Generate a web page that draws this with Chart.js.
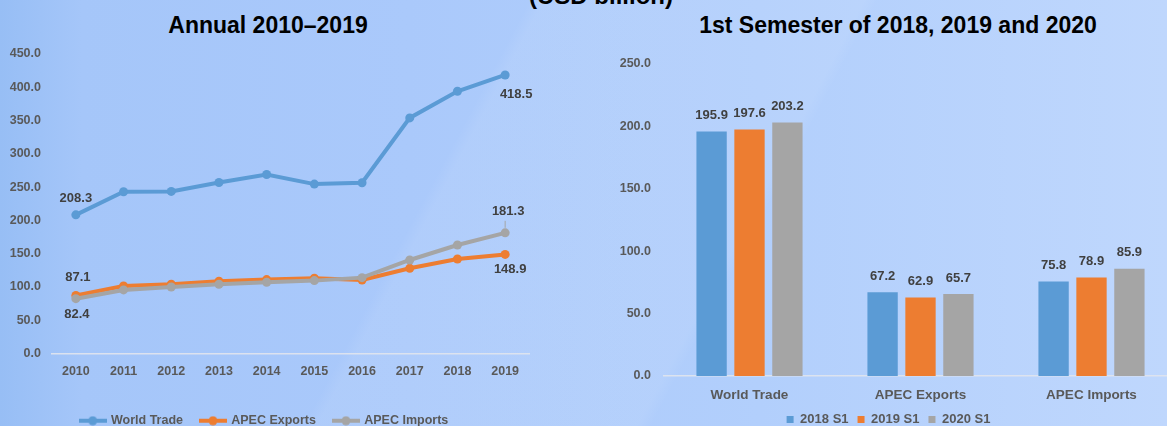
<!DOCTYPE html>
<html>
<head>
<meta charset="utf-8">
<script src="https://cdn.jsdelivr.net/npm/chart.js@4.4.1/dist/chart.umd.min.js"></script>
<style>
html, body { margin: 0; padding: 0; width: 1167px; height: 426px; overflow: hidden; }
body {
    position: relative;
    font-family: 'Liberation Sans', Arial, sans-serif;
    background:
        linear-gradient(118deg, rgba(255,255,255,0) 0%, rgba(255,255,255,0) 38%, rgba(255,255,255,0.07) 39%, rgba(255,255,255,0.07) 62%, rgba(255,255,255,0) 63%),
        linear-gradient(90deg, #97bef5 0%, #a5c6f9 7%, #aac9fb 35%, #b2cffc 65%, #bfd7fd 100%);
}
.title {
    position: absolute; font-weight: bold; font-size: 23px; line-height: 23px;
    color: #000; white-space: nowrap; transform: translateX(-50%);
}
#unit { left: 601px; top: -16px; font-size: 24px; line-height: 24px; }
#title1 { left: 268px; top: 14px; }
#title2 { left: 898px; top: 14px; }
#box1 { position: absolute; left: 0; top: 0; width: 560px; height: 437px; }
#box2 { position: absolute; left: 600px; top: 0; width: 600px; height: 436px; }
</style>
</head>
<body>
<div class="title" id="unit">(USD billion)</div>
<div class="title" id="title1">Annual 2010–2019</div>
<div class="title" id="title2">1st Semester of 2018, 2019 and 2020</div>
<div id="box1"><canvas id="annual"></canvas></div>
<div id="box2"><canvas id="semester"></canvas></div>
<script>
// annual series (USD billion)
const years = ['2010', '2011', '2012', '2013', '2014', '2015', '2016', '2017', '2018', '2019'];
const worldTrade = [208.3, 243.0, 243.5, 257.0, 269.0, 254.5, 256.5, 354.0, 394.0, 418.5];
const apecExports = [87.1, 101.5, 104.0, 108.5, 111.0, 113.0, 110.5, 128.0, 142.0, 148.9];
const apecImports = [82.4, 95.5, 100.0, 104.0, 107.0, 109.5, 114.0, 140.5, 163.0, 181.3];
const lineNames = ['World Trade', 'APEC Exports', 'APEC Imports'];

// first semester values
const semesterCats = ['World Trade', 'APEC Exports', 'APEC Imports'];
const s1of2018 = [195.9, 67.2, 75.8];
const s1of2019 = [197.6, 62.9, 78.9];
const s1of2020 = [203.2, 65.7, 85.9];
const barNames = ['2018 S1', '2019 S1', '2020 S1'];

const annualMax = 450, annualStep = 50;
const semesterMax = 250, semesterStep = 50;

const colors = ['#5b9bd5', '#ed7d31', '#a5a5a5'];
const fontFam = "'Liberation Sans', Arial, sans-serif";
const tickGray = '#595959';

// draws the value labels next to points / above bars
const valueLabels = {
    id: 'valueLabels',
    afterDatasetsDraw(chart, args, opts) {
        const ctx = chart.ctx;
        ctx.save();
        ctx.font = 'bold 13px ' + fontFam;
        ctx.fillStyle = '#404040';
        ctx.textAlign = 'center';
        ctx.textBaseline = 'middle';
        chart.data.datasets.forEach((ds, di) => {
            const meta = chart.getDatasetMeta(di);
            meta.data.forEach((el, i) => {
                let dx = 0, dy = opts.dy || 0, leader = false;
                if (opts.spots) {
                    const s = (opts.spots[di] || []).find(p => p.i === i);
                    if (!s) return;
                    dx = s.dx; dy = s.dy; leader = !!s.leader;
                }
                ctx.fillText(ds.data[i].toFixed(1), el.x + dx, el.y + dy);
                if (leader) {
                    ctx.strokeStyle = '#a5a5a5';
                    ctx.lineWidth = 1;
                    ctx.beginPath();
                    ctx.moveTo(el.x, el.y + dy + 9);
                    ctx.lineTo(el.x, el.y - 5);
                    ctx.stroke();
                }
            });
        });
        ctx.restore();
    }
};

function lineMarker(color) {
    const c = document.createElement('canvas');
    c.width = 28; c.height = 10;
    const g = c.getContext('2d');
    g.strokeStyle = color; g.lineWidth = 4;
    g.beginPath(); g.moveTo(0, 5); g.lineTo(28, 5); g.stroke();
    g.fillStyle = color;
    g.beginPath(); g.arc(14, 5, 4.5, 0, Math.PI * 2); g.fill();
    return c;
}
const markers = colors.map(lineMarker);

Chart.defaults.font.family = fontFam;
Chart.defaults.font.weight = 'bold';
Chart.defaults.color = tickGray;
Chart.defaults.animation = false;

const annualSets = [worldTrade, apecExports, apecImports].map((vals, i) => ({
    label: lineNames[i],
    data: vals,
    borderColor: colors[i],
    backgroundColor: colors[i],
    pointBackgroundColor: colors[i],
    pointBorderWidth: 0,
    pointRadius: 4.5,
    borderWidth: 4,
    tension: 0,
    order: 3 - i
}));

new Chart(document.getElementById('annual').getContext('2d'), {
    type: 'line',
    data: { labels: years, datasets: annualSets },
    plugins: [valueLabels],
    options: {
        responsive: true,
        maintainAspectRatio: false,
        layout: { padding: { top: 54, right: 31, bottom: 0, left: 0 } },
        scales: {
            x: {
                offset: true,
                grid: { display: false, drawTicks: false },
                border: { color: 'rgba(222,228,238,0.95)', width: 1.5 },
                ticks: { font: { size: 12.5 }, padding: 11, maxRotation: 0 },
                afterFit(scale) { scale.height = 43; }
            },
            y: {
                min: 0, max: annualMax,
                grid: { display: false, drawTicks: false },
                border: { display: false },
                ticks: { stepSize: annualStep, font: { size: 12.5 }, padding: 11,
                         callback: v => v.toFixed(1) },
                afterFit(scale) { scale.width = 52; }
            }
        },
        plugins: {
            tooltip: { enabled: false },
            legend: {
                position: 'bottom',
                labels: {
                    usePointStyle: true,
                    pointStyleWidth: 24,
                    padding: 18,
                    font: { size: 12.5 },
                    color: tickGray,
                    generateLabels(chart) {
                        const items = Chart.defaults.plugins.legend.labels.generateLabels(chart);
                        items.forEach(it => { it.pointStyle = markers[it.datasetIndex]; });
                        return items.sort((a, b) => a.datasetIndex - b.datasetIndex);
                    }
                }
            },
            valueLabels: {
                spots: [
                    [{ i: 0, dx: 0, dy: -16 }, { i: 9, dx: 11, dy: 19 }],
                    [{ i: 0, dx: 2, dy: -18 }, { i: 9, dx: 5, dy: 15 }],
                    [{ i: 0, dx: 1, dy: 16 }, { i: 9, dx: 3, dy: -21, leader: true }]
                ]
            }
        }
    }
});

const semesterSets = [s1of2018, s1of2019, s1of2020].map((vals, i) => ({
    label: barNames[i],
    data: vals,
    backgroundColor: colors[i],
    borderWidth: 0,
    categoryPercentage: 0.665,
    barPercentage: 0.8
}));

new Chart(document.getElementById('semester').getContext('2d'), {
    type: 'bar',
    data: { labels: semesterCats, datasets: semesterSets },
    plugins: [valueLabels],
    options: {
        responsive: true,
        maintainAspectRatio: false,
        layout: { padding: { top: 64, right: 23, bottom: 0, left: 0 } },
        scales: {
            x: {
                grid: { display: false, drawTicks: false },
                border: { color: 'rgba(222,228,238,0.95)', width: 1.5 },
                ticks: { font: { size: 13.5 }, padding: 11, maxRotation: 0, autoSkip: false },
                afterFit(scale) { scale.height = 28; }
            },
            y: {
                min: 0, max: semesterMax,
                grid: { display: false, drawTicks: false },
                border: { display: false },
                ticks: { stepSize: semesterStep, font: { size: 12.5 }, padding: 13,
                         callback: v => v.toFixed(1) },
                afterFit(scale) { scale.width = 64; }
            }
        },
        plugins: {
            tooltip: { enabled: false },
            legend: {
                position: 'bottom',
                labels: { boxWidth: 7, boxHeight: 7, padding: 9, font: { size: 13 }, color: tickGray }
            },
            valueLabels: { dy: -16 }
        }
    }
});
</script>
</body>
</html>
